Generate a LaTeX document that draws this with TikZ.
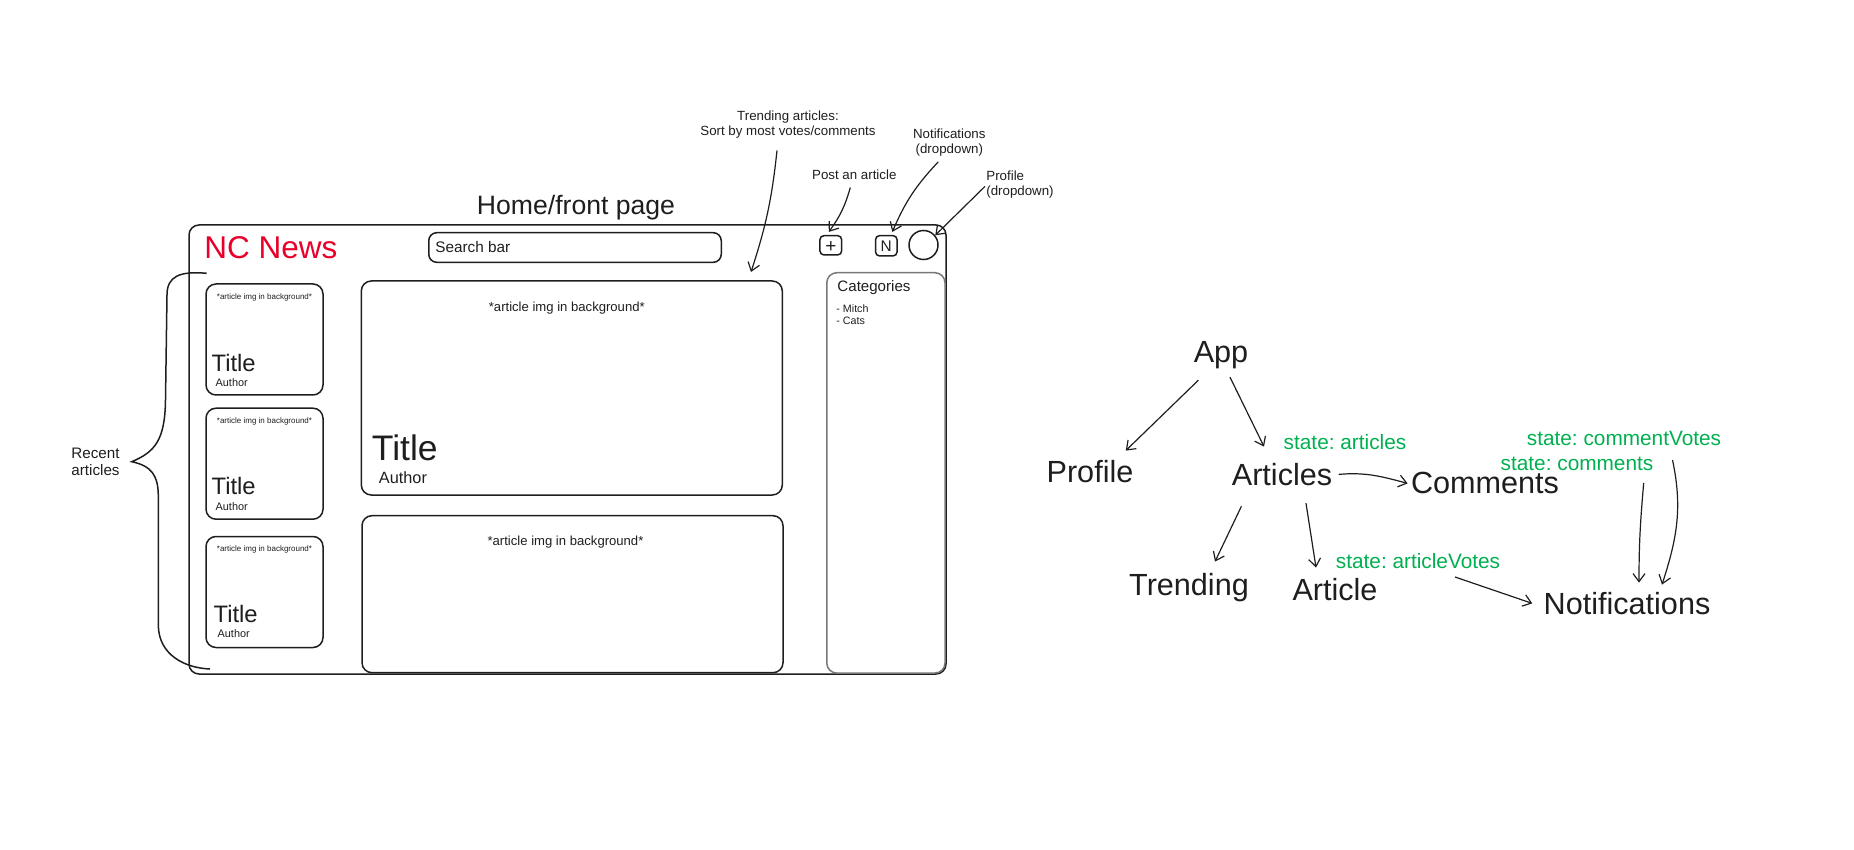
\documentclass[tikz,border=0pt]{standalone}
\usepackage{fontspec}
\setmainfont{Liberation Sans}
\usetikzlibrary{arrows.meta}
\definecolor{ink}{RGB}{30,30,30}
\definecolor{ncred}{RGB}{232,0,42}
\definecolor{stategreen}{RGB}{0,176,80}

\begin{document}
\frenchspacing
\begin{tikzpicture}[x=0.5pt, y=0.5pt,
  panel/.style={draw=ink, line width=0.75pt, rounded corners=4pt, inner sep=0pt},
  smallcard/.style={panel, minimum width=58.5pt, minimum height=55.5pt, rounded corners=5pt},
  bigcard/.style={panel, minimum width=210.5pt, rounded corners=5pt},
  txt/.style={inner sep=0pt, text=ink},
  cardhead/.style={txt, anchor=base, font=\fontsize{4}{5}\selectfont},
  cardtitle/.style={txt, anchor=base west, font=\fontsize{11.9}{14}\selectfont},
  cardauthor/.style={txt, anchor=base west, font=\fontsize{5.45}{6.5}\selectfont},
  note/.style={txt, font=\fontsize{6.65}{7.5}\selectfont},
  comp/.style={txt, anchor=base, font=\fontsize{15.3}{18}\selectfont, text height=11pt, text depth=3.4pt},
  statelbl/.style={txt, anchor=base, text=stategreen, font=\fontsize{10.4}{12}\selectfont, text height=7.5pt, text depth=2.3pt},
  arrow/.style={->, line width=0.6pt, draw=ink, >={Straight Barb[length=4pt,width=6pt]}},
]
\useasboundingbox (0,0) rectangle (1854,-850);

% page mock-up
\node[panel, minimum width=378.5pt, minimum height=224.5pt, rounded corners=5pt] (page) at (567.5,-449.5) {};
\node[txt, anchor=base, font=\fontsize{13.3}{16}\selectfont] (heading) at (576,-215) {Home/front page};
\node[txt, anchor=base west, text=ncred, font=\fontsize{15.75}{18}\selectfont] (logo) at (204,-259) {NC News};
\node[panel, minimum width=146.25pt, minimum height=14.8pt] (search) at (575,-247.5) {};
\node[txt, anchor=base west, font=\fontsize{7.65}{9}\selectfont] (searchtxt) at ([shift={(7,-5)}]search.west) {Search bar};
\node[panel, minimum width=10.85pt, minimum height=9.65pt, rounded corners=2pt] (post) at (830.8,-245.3) {};
\node[txt, font=\fontsize{9.5}{11}\selectfont] (posttxt) at ([shift={(0,-1.5)}]post.center) {+};
\node[panel, minimum width=10.75pt, minimum height=10.15pt, rounded corners=2pt, text=ink, font=\fontsize{7.7}{9}\selectfont] (notif) at (886.3,-245.8) {N};
\node[panel, circle, minimum size=14.5pt] (avatar) at (923.5,-245) {};

% recent articles
\node[smallcard] (rc1) at (264.5,-339.5) {};
\node[smallcard] (rc2) at (264.5,-463.7) {};
\node[smallcard] (rc3) at (264.5,-592) {};
\node[cardhead] (rh1) at ([shift={(0,-16)}]rc1.north) {*article img in background*};
\node[cardtitle] (rt1) at ([shift={(6,-88)}]rc1.north west) {Title};
\node[cardauthor] (ra1) at ([shift={(10,-103)}]rc1.north west) {Author};
\node[cardhead] (rh2) at ([shift={(0,-16)}]rc2.north) {*article img in background*};
\node[cardtitle] (rt2) at ([shift={(6,-87)}]rc2.north west) {Title};
\node[cardauthor] (ra2) at ([shift={(10,-103)}]rc2.north west) {Author};
\node[cardhead] (rh3) at ([shift={(0,-16)}]rc3.north) {*article img in background*};
\node[cardtitle] (rt3) at ([shift={(8,-87)}]rc3.north west) {Title};
\node[cardauthor] (ra3) at ([shift={(12,-102)}]rc3.north west) {Author};

% main articles
\node[bigcard, minimum height=107pt] (main) at (571.8,-388) {};
\node[cardhead, font=\fontsize{6.55}{8}\selectfont] (mainhead) at ([shift={(-5,-31)}]main.north) {*article img in background*};
\node[txt, anchor=base west, font=\fontsize{17.75}{20}\selectfont] (maintitle) at ([shift={(11,-180)}]main.north west) {Title};
\node[txt, anchor=base west, font=\fontsize{8.15}{10}\selectfont] (mainauthor) at ([shift={(18,-203)}]main.north west) {Author};
\node[bigcard, minimum height=78.5pt] (second) at (572.5,-594.2) {};
\node[cardhead, font=\fontsize{6.55}{8}\selectfont] (secondhead) at ([shift={(-7,-31)}]second.north) {*article img in background*};

% categories
\node[panel, draw=ink!60, minimum width=59.1pt, minimum height=200.15pt, rounded corners=5pt] (cats) at (885.9,-472.9) {};
\node[txt, anchor=base west, font=\fontsize{7.55}{9}\selectfont] (catshead) at ([shift={(11,-20)}]cats.north west) {Categories};
\node[txt, anchor=north west, align=left, font=\fontsize{5.35}{6.15}\selectfont] (catslist) at ([shift={(10,-32.2)}]cats.north west) {- Mitch\\- Cats};

% brace
\draw[ink, line width=0.75pt] (206.7,-273.3) .. controls (180,-271) and (167,-276) .. (167,-295)
  -- (165.5,-400) .. controls (165,-440) and (155,-452) .. (131.7,-461.7)
  .. controls (152,-466) and (158,-476) .. (158.3,-495) -- (158.3,-625)
  .. controls (158.5,-655) and (185,-668) .. (210,-669);
\node[txt, anchor=north, align=center, font=\fontsize{7.6}{8.5}\selectfont] (recent) at (95.5,-447.7) {Recent\\articles};

% notes
\node[note, anchor=north, align=center] (trendnote) at (788,-110.3) {Trending articles:\\Sort by most votes/comments};
\node[note, anchor=base] (postnote) at (854.3,-180) {Post an article};
\node[note, anchor=north, align=center] (notifnote) at (949.3,-128.6) {Notifications\\(dropdown)};
\node[note, anchor=north west, align=left] (profnote) at (986,-170.3) {Profile\\(dropdown)};
\coordinate (trendspot) at (751,-272);

\draw[arrow] ([shift={(-11,-12)}]trendnote.south) to[bend left=6] (trendspot);
\draw[arrow] ([shift={(-4,-7)}]postnote.south) to[bend left=10] ([shift={(-2,3)}]post.north);
\draw[arrow] ([shift={(-11,-5)}]notifnote.south) to[bend right=10] ([shift={(6,3)}]notif.north);
\draw[arrow] ([shift={(-1,-2)}]profnote.west) -- ([shift={(1,-1)}]avatar.north east);

% component tree
\node[comp] (app) at (1221,-363) {App};
\node[comp] (profile) at (1090,-482) {Profile};
\node[comp] (articles) at (1282,-486) {Articles};
\node[comp] (comments) at (1485,-494) {Comments};
\node[comp] (trending) at (1189,-595) {Trending};
\node[comp] (article) at (1335,-600) {Article};
\node[comp] (notifications) at (1627,-614) {Notifications};

\node[statelbl] (artstate) at (1345,-450) {state: articles};
\node[statelbl] (cvstate) at (1624,-445) {state: commentVotes};
\node[statelbl] (cstate) at (1577,-470) {state: comments};
\node[statelbl] (avstate) at (1418,-568) {state: articleVotes};

\draw[arrow] ([shift={(5,-10)}]app.south west) -- ([shift={(-8,9)}]profile.north east);
\draw[arrow] ([shift={(9,-7)}]app.south) -- ([shift={(-18,17)}]articles.north);
\draw[arrow] ([shift={(6,4)}]articles.east) to[out=5,in=165] ([shift={(-3,3)}]comments.west);
\draw[arrow] ([shift={(10,-13)}]articles.south west) -- ([shift={(26,11)}]trending.north);
\draw[arrow] ([shift={(24,-10)}]articles.south) -- ([shift={(-19,10)}]article.north);
\draw[arrow] ([shift={(37,-4)}]avstate.south) -- ([shift={(-11,3)}]notifications.west);
\draw[arrow] ([shift={(-10,-8)}]cstate.south east) to[out=-95,in=90] ([shift={(12,9)}]notifications.north);
\draw[arrow] ([shift={(-49,-10)}]cvstate.south east) to[out=-78,in=72] ([shift={(35,7)}]notifications.north);
\end{tikzpicture}
\end{document}
